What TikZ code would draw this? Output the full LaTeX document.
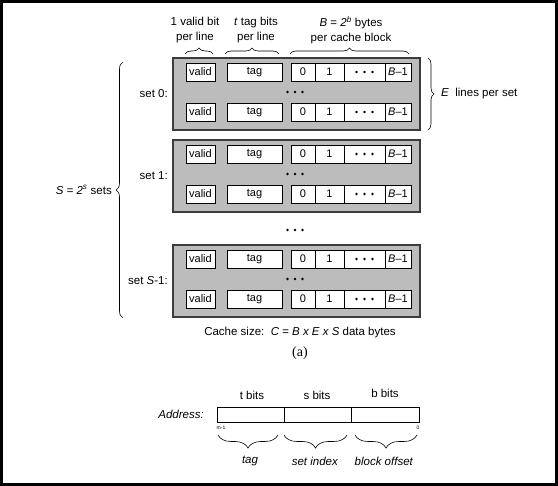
\documentclass[tikz,border=0pt]{standalone}
\usepackage{fontspec}
\setmainfont{Liberation Sans}
\newfontfamily\serifa{Liberation Serif}
\usetikzlibrary{decorations.pathreplacing}
\definecolor{setgrey}{RGB}{188,188,188}
\definecolor{edgegrey}{RGB}{60,60,60}
\newcommand\dotrow[3]{\foreach \dd in {-1,0,1}{\fill (#1+\dd*#3,#2) circle (1.4);}}
\begin{document}
\begin{tikzpicture}[x=1pt,y=-1pt,
  font=\fontsize{11.5}{13}\selectfont,
  setbox/.style={draw=edgegrey, line width=1.3pt, fill=setgrey},
  cell/.style={draw, fill=white, line width=0.8pt, minimum height=18pt, inner sep=0pt, anchor=center, font=\fontsize{11}{13}\selectfont},
  afield/.style={draw, line width=0.8pt, minimum height=15pt, inner sep=0pt, anchor=center},
  brc/.style={decorate, decoration={brace, amplitude=#1}, line width=0.6pt},
  brc/.default=6pt,
  lbl/.style={inner sep=0pt, align=center}]
% frame
\fill[white] (0,0) rectangle (558,486);
\draw[line width=3pt] (1.5,1.5) rectangle (556.5,484.5);

% column headers
\node[lbl, font=\fontsize{11.5}{15}\selectfont] (hv) at (195,30) {1 valid bit\\per line};
\node[lbl, font=\fontsize{11.5}{15}\selectfont] (ht) at (256,30) {\textit{t} tag bits\\per line};
\node[lbl, font=\fontsize{11.5}{15}\selectfont] (hb) at (351,30) {\textit{B} = \textit{2\textsuperscript{b}} bytes\\per cache block};
\draw[brc] (185,54) -- (213,54);
\draw[brc] (225,54) -- (279,54);
\draw[brc] (290,54) -- (409,54);

% sets
\foreach \s/\t in {0/58,1/140,2/245}{
  \pgfmathsetmacro\ra{\t+14}
  \pgfmathsetmacro\rb{\t+54}
  \pgfmathsetmacro\rd{\t+34}
  \node[setbox, minimum width=247pt, minimum height=72pt, inner sep=0pt] (set\s) at (296.5,\t+36) {};
  \foreach \r/\y in {a/\ra,b/\rb}{
    \node[cell, minimum width=29pt] (v\s\r) at (200.5,\y) {valid};
    \node[cell, minimum width=55pt] (t\s\r) at (254.5,\y) {tag};
    \node[cell, minimum width=24pt] (c0\s\r) at (303,\y) {0};
    \node[cell, minimum width=29pt] (c1\s\r) at (329.5,\y) {1};
    \node[cell, minimum width=41pt] (cd\s\r) at (364.5,\y) {};
    \node[cell, minimum width=26pt] (cb\s\r) at (398,\y) {\textit{B}–1};
    \dotrow{364.5}{\y}{8}
  }
  \dotrow{295}{\rd}{7.5}
}
\dotrow{295}{230}{7.5}

% set labels
\node[lbl, anchor=east] (l0) at (168,94) {set 0:};
\node[lbl, anchor=east] (l1) at (168,176) {set 1:};
\node[lbl, anchor=east] (l2) at (168,281) {set \textit{S}-1:};

% left brace
\draw[brc=7pt] (123,318) -- (123,62);
\node[lbl, anchor=east] (sl) at (112,190) {\textit{S = 2\textsuperscript{s}} sets};

% right brace
\draw[brc=6pt] (428,58) -- (428,130);
\node[lbl, anchor=west] (el) at (441,94) {\textit{E}\ \ lines per set};

% cache size
\node[lbl] (cs) at (300,333) {Cache size:\ \ \textit{C = B x E x S} data bytes};
\node[lbl, font=\serifa\fontsize{14}{16}\selectfont] (ca) at (300,353) {(a)};

% address
\node[lbl, anchor=east] (addr) at (204,414) {\textit{Address:}};
\node[afield, minimum width=67pt] (ft) at (250.5,414.5) {};
\node[afield, minimum width=67pt] (fs) at (317.5,414.5) {};
\node[afield, minimum width=68pt] (fb) at (385,414.5) {};
\node[lbl] (tb) at (252,395) {t bits};
\node[lbl] (sb) at (317,395) {s bits};
\node[lbl] (bb) at (385,393) {b bits};
\node[lbl, font=\fontsize{5}{5}\selectfont] (m1) at (221,428) {m-1};
\node[lbl, font=\fontsize{5}{5}\selectfont] (z0) at (418,428) {0};
\draw[brc=13pt] (278,435) -- (218,435);
\draw[brc=13pt] (347,435) -- (284,435);
\draw[brc=13pt] (417,435) -- (355,435);
\node[lbl] (lt) at (250,461) {\textit{tag}};
\node[lbl] (ls) at (315,461) {\textit{set index}};
\node[lbl] (lb) at (384,461) {\textit{block offset}};
\end{tikzpicture}
\end{document}
